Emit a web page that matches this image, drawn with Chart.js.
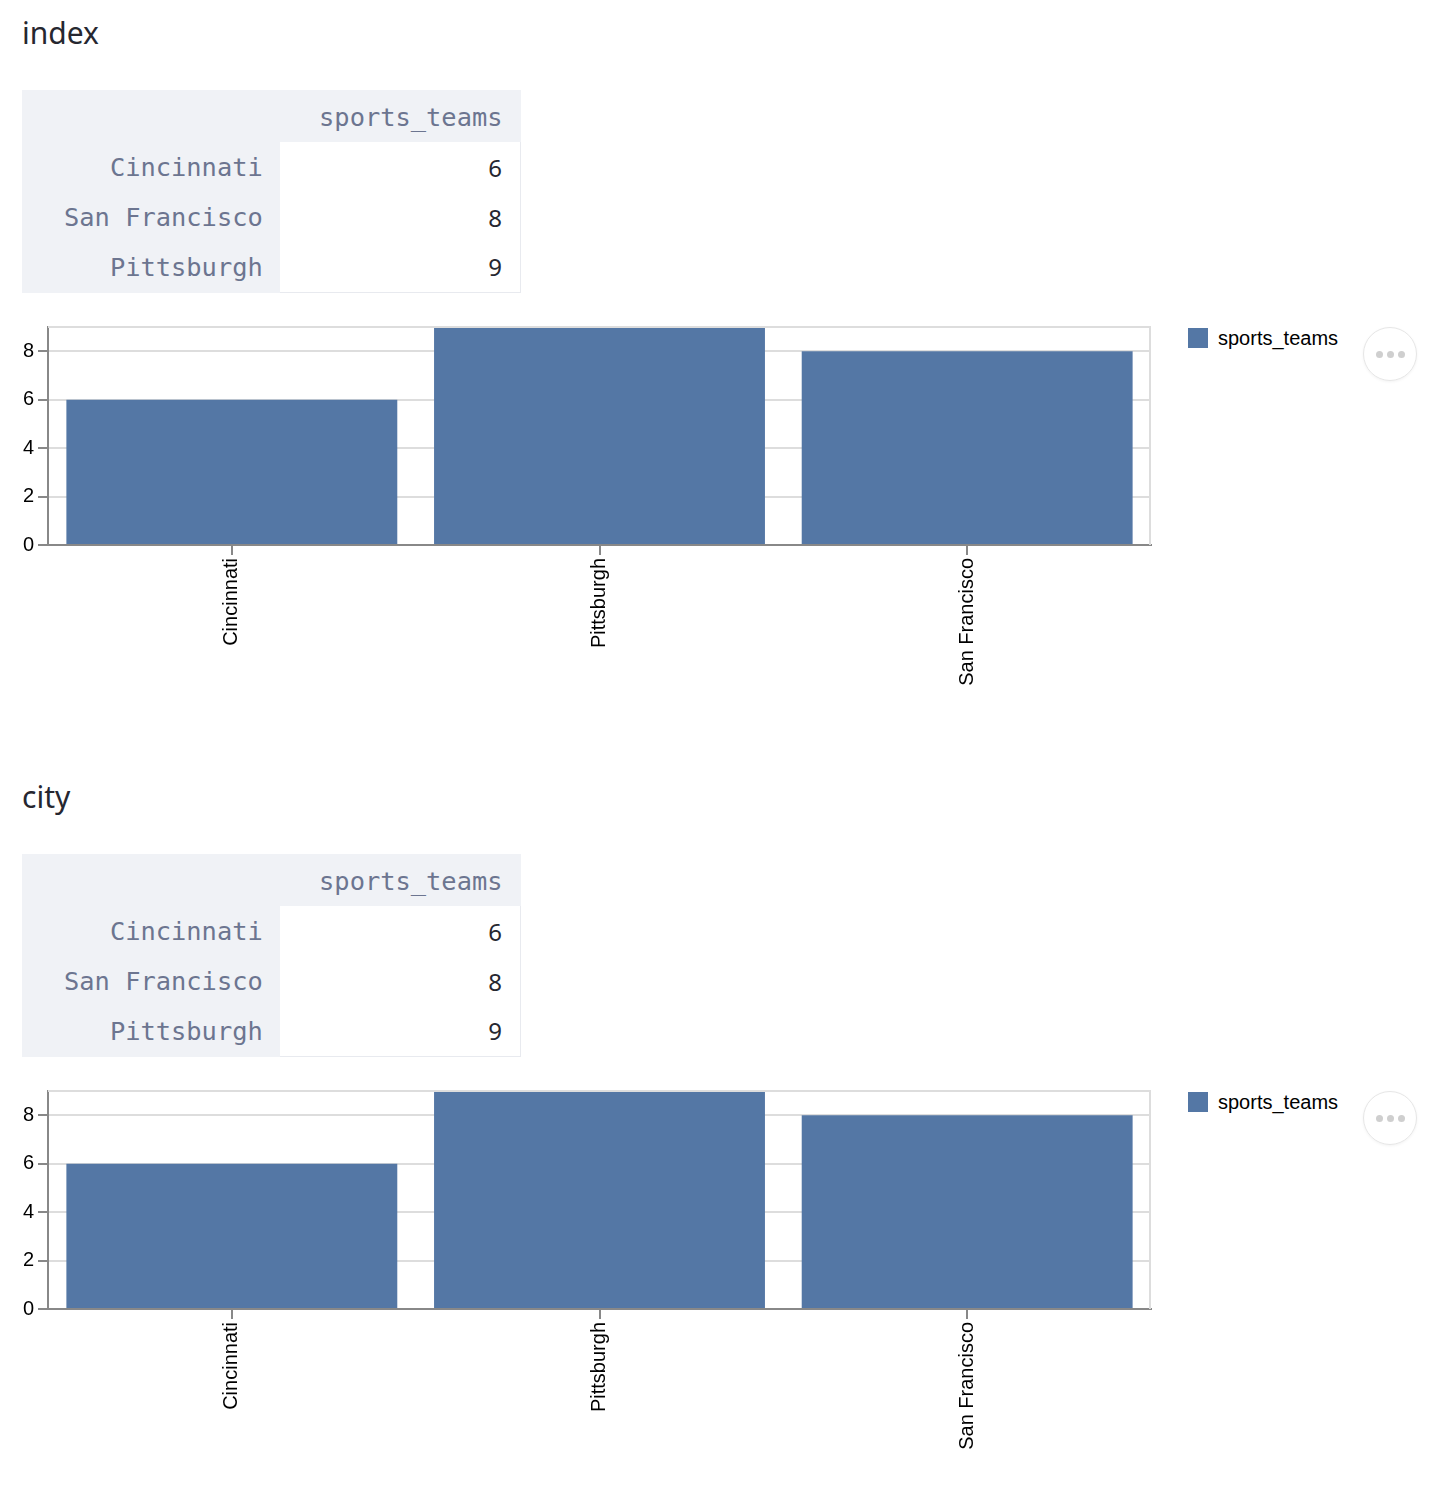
<!DOCTYPE html>
<html>
<head>
<meta charset="utf-8">
<script src="https://cdn.jsdelivr.net/npm/chart.js@4.4.1/dist/chart.umd.min.js"></script>
<style>
    body { margin: 0; background: #fff; width: 1446px; height: 1506px; position: relative; overflow: hidden; }
    .section { position: absolute; left: 0; width: 1446px; height: 764px; }
    .section h2 {
        position: absolute; left: 22px; top: 12px; margin: 0;
        font: 400 30px "Noto Sans", sans-serif; color: #262730;
    }
    table.df {
        position: absolute; left: 22px; top: 90px; width: 499px;
        border-collapse: collapse; background: #f0f2f6;
        font-family: "DejaVu Sans Mono", monospace; font-size: 25.4px;
    }
    table.df th { color: #6c7590; font-weight: 400; text-align: right; padding: 0 17px 0 0; height: 50px; }
    table.df thead th { height: 50px; padding-top: 2px; }
    table.df td {
        background: #fff; color: #262730; text-align: right; padding: 0 18px 0 0;
        font-family: "Noto Sans", sans-serif; font-size: 24px;
        border-right: 1px solid #e8eaef;
    }
    table.df tbody tr:last-child td { border-bottom: 1px solid #e8eaef; }
    .chart-box { position: absolute; left: 0; top: 311px; width: 1165px; height: 384px; }
    .legend { position: absolute; left: 1188px; top: 327px; font: 20px "Liberation Sans", Arial, sans-serif; color: #000; }
    .legend .swatch { display: inline-block; width: 20px; height: 20px; vertical-align: -3px; margin-right: 10px; }
    .more {
        position: absolute; left: 1363px; top: 327px; width: 52px; height: 52px; border-radius: 50%;
        border: 1px solid #e6e6e6; box-shadow: 0 1px 3px rgba(0,0,0,0.05);
        display: flex; align-items: center; justify-content: center; gap: 4px;
    }
    .more span { width: 7px; height: 7px; border-radius: 50%; background: #cfcfcf; }
</style>
</head>
<body>
<script>
// table rows (original frame order)
const tableCities = ['Cincinnati', 'San Francisco', 'Pittsburgh'];
const tableTeams = [6, 8, 9];

// chart categories (sorted on the axis)
const chartCities = ['Cincinnati', 'Pittsburgh', 'San Francisco'];
const chartTeams = [6, 9, 8];

const seriesName = 'sports_teams';
const yTicks = [0, 2, 4, 6, 8];
const yMax = 9;

const sectionTitles = ['index', 'city'];
const barColor = '#5477a5';

Chart.defaults.font.family = '"Liberation Sans", Arial, sans-serif';
Chart.defaults.color = '#000';

// light border on the top and right of the plot
const plotFrame = {
    id: 'plotFrame',
    afterDatasetsDraw(chart) {
        const { ctx, chartArea } = chart;
        ctx.save();
        ctx.strokeStyle = '#dddddd';
        ctx.lineWidth = 2;
        ctx.beginPath();
        ctx.moveTo(chartArea.left, chartArea.top);
        ctx.lineTo(chartArea.right - 1, chartArea.top);
        ctx.lineTo(chartArea.right - 1, chartArea.bottom);
        ctx.stroke();
        ctx.restore();
    }
};

function buildSection(title, offsetTop, idx) {
    const sec = document.createElement('div');
    sec.className = 'section';
    sec.style.top = offsetTop + 'px';

    const rows = tableCities.map((c, i) =>
        `<tr><th>${c}</th><td>${tableTeams[i]}</td></tr>`).join('');

    sec.innerHTML = `
        <h2>${title}</h2>
        <table class="df">
            <thead><tr><th></th><th style="padding-right:18px">${seriesName}</th></tr></thead>
            <tbody>${rows}</tbody>
        </table>
        <div class="chart-box"><canvas id="chart-${idx}"></canvas></div>
        <div class="legend"><span class="swatch" style="background:${barColor}"></span>${seriesName}</div>
        <div class="more"><span></span><span></span><span></span></div>
    `;
    document.body.appendChild(sec);

    const ctx = document.getElementById('chart-' + idx).getContext('2d');
    new Chart(ctx, {
        type: 'bar',
        data: {
            labels: chartCities,
            datasets: [{
                label: seriesName,
                data: chartTeams,
                backgroundColor: barColor,
                borderWidth: 0,
                categoryPercentage: 1.0,
                barPercentage: 0.9
            }]
        },
        plugins: [plotFrame],
        options: {
            responsive: true,
            maintainAspectRatio: false,
            animation: false,
            layout: { padding: { top: 14, right: 14, left: 0, bottom: 0 } },
            plugins: {
                legend: { display: false },
                tooltip: { enabled: false }
            },
            scales: {
                x: {
                    grid: { offset: false, drawOnChartArea: false, color: '#888', tickColor: '#888', tickLength: 10, lineWidth: 2 },
                    border: { color: '#888', width: 2 },
                    ticks: { minRotation: 90, maxRotation: 90, padding: 3, font: { size: 20 }, color: '#000' },
                    afterFit(scale) { scale.height = 150; }
                },
                y: {
                    min: 0,
                    max: yMax,
                    grid: { color: '#dddddd', tickColor: '#888', tickLength: 10, lineWidth: 2 },
                    border: { color: '#888', width: 2 },
                    ticks: { padding: 4, font: { size: 20 }, color: '#000' },
                    afterBuildTicks(scale) { scale.ticks = yTicks.map(v => ({ value: v })); },
                    afterFit(scale) { scale.width = 48; }
                }
            }
        }
    });
}

sectionTitles.forEach((t, i) => buildSection(t, i * 764, i));
</script>
</body>
</html>
